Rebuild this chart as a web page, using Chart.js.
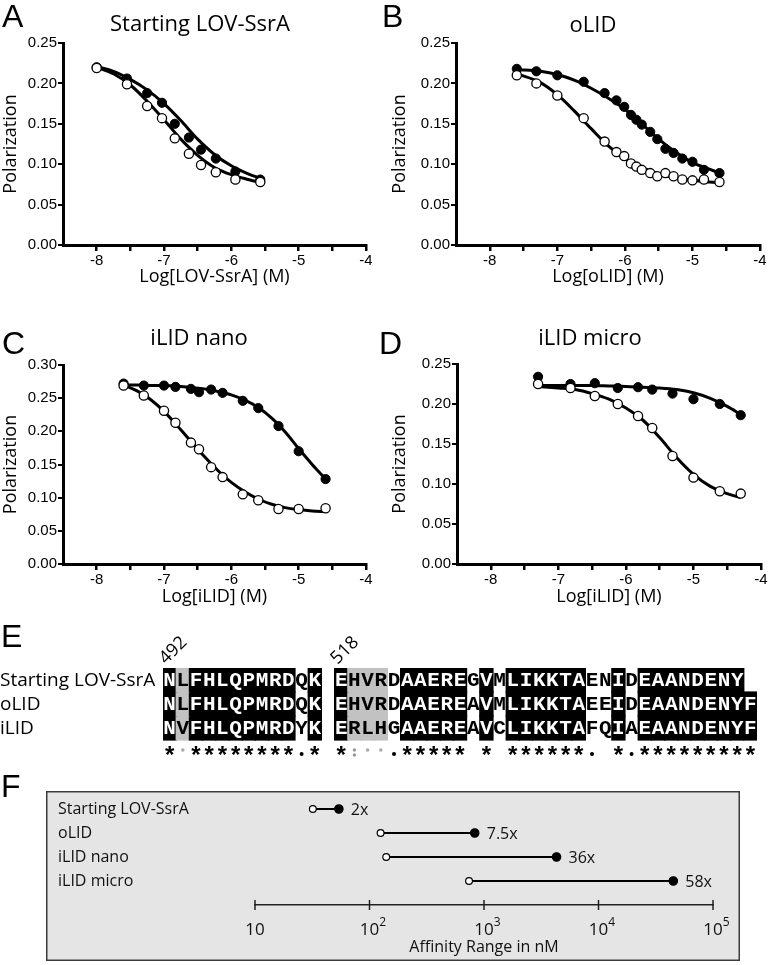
<!DOCTYPE html>
<html>
<head>
<meta charset="utf-8">
<script src="https://cdn.jsdelivr.net/npm/chart.js@4.4.1/dist/chart.umd.min.js"></script>
<style>
  html, body { margin: 0; padding: 0; background: #fff; overflow: hidden; }
  #page { position: relative; width: 773px; height: 965px; }
  canvas { position: absolute; }
  .txt { position: absolute; white-space: nowrap; line-height: 1; color: #000; }
  .letter { font-family: "Liberation Sans", Arial, sans-serif; font-size: 32px; }
  .ttl { font-family: "Open Sans", sans-serif; font-size: 22px; width: 300px; text-align: center; }
</style>
</head>
<body>
<div id="page">
  <canvas id="cA" width="385" height="290" style="left:0;top:0"></canvas>
  <canvas id="cB" width="388" height="290" style="left:385px;top:0"></canvas>
  <canvas id="cC" width="385" height="320" style="left:0;top:290px"></canvas>
  <canvas id="cD" width="388" height="320" style="left:385px;top:290px"></canvas>
  <canvas id="cE" width="773" height="140" style="left:0;top:630px"></canvas>
  <canvas id="cF" width="694" height="170" style="left:46px;top:791px"></canvas>

  <div class="txt letter" style="left:2px;top:0">A</div>
  <div class="txt letter" style="left:382px;top:0">B</div>
  <div class="txt letter" style="left:2px;top:327px">C</div>
  <div class="txt letter" style="left:379px;top:327px">D</div>
  <div class="txt letter" style="left:1px;top:620px">E</div>
  <div class="txt letter" style="left:1px;top:770px">F</div>

  <div class="txt ttl" style="left:50px;top:11px">Starting LOV-SsrA</div>
  <div class="txt ttl" style="left:443px;top:12px">oLID</div>
  <div class="txt ttl" style="left:49px;top:325px">iLID nano</div>
  <div class="txt ttl" style="left:440px;top:325px">iLID micro</div>
</div>

<script>
// ---- shared axis ticks ----
const logConcTicks = [-8, -7, -6, -5, -4];
const logConcMinor = [-7.5, -6.5, -5.5, -4.5];
const polTicks = [0, 0.05, 0.10, 0.15, 0.20, 0.25];
const polTicksC = [0, 0.05, 0.10, 0.15, 0.20, 0.25, 0.30];

// ---- A: Starting LOV-SsrA ----
const aConc = [-8, -7.55, -7.25, -7.03, -6.84, -6.63, -6.45, -6.23, -5.94, -5.57];
const aDark = [0.220, 0.206, 0.188, 0.176, 0.150, 0.133, 0.118, 0.107, 0.091, 0.081];
const aLight = [0.219, 0.199, 0.172, 0.157, 0.132, 0.113, 0.099, 0.090, 0.081, 0.078];
const aFitConc = [-8, -7.75, -7.5, -7.25, -7, -6.75, -6.5, -6.25, -6, -5.75, -5.55];
const aFitDark = [0.221, 0.215, 0.205, 0.192, 0.175, 0.154, 0.131, 0.112, 0.098, 0.088, 0.082];
const aFitLight = [0.220, 0.212, 0.198, 0.178, 0.155, 0.131, 0.111, 0.096, 0.087, 0.081, 0.077];

// ---- B: oLID ----
const bConc = [-7.6, -7.31, -7.0, -6.61, -6.3, -6.125, -6.01, -5.91, -5.83, -5.75, -5.625, -5.52, -5.4, -5.28, -5.15, -5.0, -4.83, -4.6];
const bDark = [0.218, 0.215, 0.210, 0.202, 0.188, 0.179, 0.171, 0.161, 0.155, 0.149, 0.140, 0.131, 0.119, 0.114, 0.107, 0.103, 0.093, 0.089];
const bLight = [0.210, 0.200, 0.185, 0.157, 0.128, 0.115, 0.110, 0.101, 0.097, 0.093, 0.089, 0.085, 0.089, 0.085, 0.081, 0.080, 0.081, 0.078];
const bFitConc = [-7.6, -7.25, -7, -6.75, -6.5, -6.25, -6, -5.75, -5.5, -5.25, -5, -4.75, -4.6];
const bFitDark = [0.217, 0.215, 0.211, 0.204, 0.194, 0.182, 0.168, 0.150, 0.131, 0.115, 0.102, 0.094, 0.089];
const bFitLight = [0.212, 0.201, 0.186, 0.166, 0.144, 0.123, 0.107, 0.096, 0.088, 0.083, 0.080, 0.078, 0.077];

// ---- C: iLID nano ----
const cConc = [-7.6, -7.3, -7.0, -6.83, -6.6, -6.48, -6.3, -6.13, -5.83, -5.6, -5.3, -5.0, -4.6];
const cDark = [0.272, 0.269, 0.269, 0.267, 0.264, 0.259, 0.263, 0.258, 0.246, 0.235, 0.208, 0.170, 0.128];
const cLight = [0.269, 0.254, 0.231, 0.213, 0.183, 0.173, 0.146, 0.131, 0.105, 0.096, 0.083, 0.083, 0.084];
const cFitConc = [-7.6, -7.4, -7.2, -7.0, -6.8, -6.6, -6.4, -6.2, -6.0, -5.8, -5.6, -5.4, -5.2, -5.0, -4.8, -4.6];
const cFitDark = [0.270, 0.270, 0.269, 0.269, 0.268, 0.266, 0.264, 0.260, 0.255, 0.247, 0.236, 0.220, 0.199, 0.174, 0.150, 0.128];
const cFitLight = [0.270, 0.261, 0.248, 0.230, 0.208, 0.185, 0.162, 0.141, 0.123, 0.109, 0.098, 0.090, 0.085, 0.082, 0.080, 0.079];

// ---- D: iLID micro ----
const dConc = [-7.3, -6.82, -6.46, -6.12, -5.82, -5.61, -5.31, -5.0, -4.61, -4.3];
const dDark = [0.234, 0.225, 0.226, 0.220, 0.221, 0.218, 0.213, 0.206, 0.200, 0.186];
const dLight = [0.225, 0.220, 0.210, 0.200, 0.185, 0.170, 0.135, 0.108, 0.091, 0.088];
const dFitConc = [-7.3, -7.0, -6.75, -6.5, -6.25, -6.0, -5.75, -5.5, -5.25, -5.0, -4.75, -4.5, -4.3];
const dFitDark = [0.223, 0.223, 0.223, 0.223, 0.2225, 0.222, 0.221, 0.220, 0.218, 0.214, 0.207, 0.197, 0.187];
const dFitLight = [0.222, 0.220, 0.218, 0.213, 0.206, 0.195, 0.180, 0.158, 0.133, 0.112, 0.097, 0.088, 0.083];

// ---- E: alignment ----
const seqNames = ['Starting LOV-SsrA', 'oLID', 'iLID'];
const seqRows = [
  'NLFHLQPMRDQK EHVRDAAEREGVMLIKKTAENIDEAANDENY',
  'NLFHLQPMRDQK EHVRDAAEREAVMLIKKTAEEIDEAANDENYF',
  'NVFHLQPMRDYK ERLHGAAEREAVCLIKKTAFQIAEAANDENYF'
];
const conservation = '*˚********.* *:˚˚.***** * ******. *.*********';
const numberedCols = [0, 13];
const residueNumbers = ['492', '518'];

// ---- F: affinity ranges ----
const rangeNames = ['Starting LOV-SsrA', 'oLID', 'iLID nano', 'iLID micro'];
const openNM = [32, 125, 140, 740];
const filledNM = [54, 830, 4300, 45000];
const foldLabels = ['2x', '7.5x', '36x', '58x'];
const decadeTicks = [10, 100, 1000, 10000, 100000];

const sansFont = '"Open Sans", sans-serif';
const tickFont = '"Liberation Sans", Arial, sans-serif';

function curveChart(p) {
  const pts = (xs, ys) => xs.map((x, i) => ({ x: x, y: ys[i] }));
  const fitLine = ys => ({
    type: 'line', data: pts(p.fitConc, ys), borderColor: '#000', borderWidth: 3,
    pointRadius: 0, cubicInterpolationMode: 'monotone', fill: false
  });
  return new Chart(document.getElementById(p.id), {
    type: 'scatter',
    data: {
      datasets: [
        { data: pts(p.conc, p.light), pointRadius: 4.6, pointBackgroundColor: '#fff', pointBorderColor: '#000', pointBorderWidth: 1.3, order: 0 },
        { data: pts(p.conc, p.dark), pointRadius: 4.6, pointBackgroundColor: '#000', pointBorderColor: '#000', pointBorderWidth: 1, order: 1 },
        Object.assign(fitLine(p.fitDark), { order: 2 }),
        Object.assign(fitLine(p.fitLight), { order: 3 })
      ]
    },
    options: {
      responsive: false, animation: false, events: [],
      layout: { padding: p.pad },
      plugins: { legend: { display: false }, tooltip: { enabled: false } },
      scales: {
        x: {
          type: 'linear', min: -8.5, max: -4,
          afterBuildTicks: s => { s.ticks = logConcTicks.concat(logConcMinor).sort((a, b) => a - b).map(v => ({ value: v })); },
          afterFit: s => { s.height = p.xHeight; },
          ticks: { autoSkip: false, maxRotation: 0, padding: 1, color: '#000', font: { family: tickFont, size: 15 },
                   callback: v => logConcTicks.includes(v) ? String(v) : '' },
          grid: { drawOnChartArea: false, tickLength: 6, color: '#000', lineWidth: 2.5 },
          border: { color: '#000', width: 3 },
          title: { display: true, text: p.xTitle, color: '#000', font: { family: sansFont, size: 18 }, padding: { top: 0, bottom: 2 } }
        },
        y: {
          min: 0, max: p.yTicks[p.yTicks.length - 1],
          afterBuildTicks: s => { s.ticks = p.yTicks.map(v => ({ value: v })); },
          afterFit: s => { s.width = p.yWidth; },
          ticks: { padding: 1, color: '#000', font: { family: tickFont, size: 15 }, callback: v => Number(v).toFixed(2) },
          grid: { drawOnChartArea: false, tickLength: 5, color: '#000', lineWidth: 2 },
          border: { color: '#000', width: 3 },
          title: { display: true, text: 'Polarization', color: '#000', font: { family: sansFont, size: 18 }, padding: { top: p.yTitlePad, bottom: 0 } }
        }
      }
    }
  });
}

curveChart({ id: 'cA', conc: aConc, dark: aDark, light: aLight, fitConc: aFitConc, fitDark: aFitDark, fitLight: aFitLight,
  yTicks: polTicks, xTitle: 'Log[LOV-SsrA] (M)', pad: { left: 0, top: 43, right: 19, bottom: 0 }, yWidth: 63, xHeight: 45, yTitlePad: 0 });
curveChart({ id: 'cB', conc: bConc, dark: bDark, light: bLight, fitConc: bFitConc, fitDark: bFitDark, fitLight: bFitLight,
  yTicks: polTicks, xTitle: 'Log[oLID] (M)', pad: { left: 0, top: 43, right: 13, bottom: 0 }, yWidth: 71, xHeight: 45, yTitlePad: 4 });
curveChart({ id: 'cC', conc: cConc, dark: cDark, light: cLight, fitConc: cFitConc, fitDark: cFitDark, fitLight: cFitLight,
  yTicks: polTicksC, xTitle: 'Log[iLID] (M)', pad: { left: 0, top: 75, right: 19, bottom: 0 }, yWidth: 63, xHeight: 46, yTitlePad: 0 });
curveChart({ id: 'cD', conc: dConc, dark: dDark, light: dLight, fitConc: dFitConc, fitDark: dFitDark, fitLight: dFitLight,
  yTicks: polTicks, xTitle: 'Log[iLID] (M)', pad: { left: 0, top: 74, right: 12, bottom: 0 }, yWidth: 72, xHeight: 46, yTitlePad: 4 });

// ---- E: alignment drawn on a category x / linear y grid ----
const colIdx = conservation.split('').map((_, i) => String(i));
const shadeFor = m => m === '*' ? '#000' : (m === ':' || m === '˚') ? '#c2c2c2' : 'rgba(0,0,0,0)';

const alignPlugin = {
  id: 'alignText',
  afterDatasetsDraw(chart) {
    const { ctx } = chart;
    const xs = chart.scales.x, ys = chart.scales.y;
    const colW = xs.getPixelForValue(1) - xs.getPixelForValue(0);
    ctx.save();
    ctx.textBaseline = 'middle';
    // row names
    ctx.font = '19px "Open Sans"';
    ctx.textAlign = 'left';
    ctx.fillStyle = '#000';
    seqNames.forEach((n, r) => ctx.fillText(n, 0, ys.getPixelForValue(r + 0.5) + 1));
    // residues
    ctx.font = 'bold 21px "Liberation Mono"';
    ctx.textAlign = 'center';
    seqRows.forEach((row, r) => {
      row.split('').forEach((ch, c) => {
        if (ch === ' ') return;
        ctx.fillStyle = conservation[c] === '*' ? '#fff' : '#000';
        ctx.fillText(ch, xs.getPixelForValue(c), ys.getPixelForValue(r + 0.5) + 1);
      });
    });
    // conservation marks
    const my = ys.getPixelForValue(3.5);
    conservation.split('').forEach((m, c) => {
      const cx = xs.getPixelForValue(c);
      if (m === '*') {
        ctx.fillStyle = '#000';
        ctx.font = 'bold 24px "Liberation Mono"';
        ctx.fillText('*', cx, my + 6);
      } else if (m === '.') {
        ctx.fillStyle = '#000';
        ctx.beginPath(); ctx.arc(cx, my + 2, 2, 0, Math.PI * 2); ctx.fill();
      } else if (m === ':') {
        ctx.fillStyle = '#999';
        ctx.beginPath(); ctx.arc(cx, my - 2, 1.7, 0, Math.PI * 2); ctx.fill();
        ctx.beginPath(); ctx.arc(cx, my + 3, 1.7, 0, Math.PI * 2); ctx.fill();
      } else if (m === '˚') {
        ctx.fillStyle = '#aaa';
        ctx.beginPath(); ctx.arc(cx, my - 2, 1.8, 0, Math.PI * 2); ctx.fill();
      }
    });
    // residue numbers
    ctx.fillStyle = '#000';
    ctx.font = '18px "Open Sans"';
    ctx.textAlign = 'left';
    ctx.textBaseline = 'alphabetic';
    numberedCols.forEach((c, i) => {
      ctx.save();
      ctx.translate(xs.getPixelForValue(c) - colW / 2 + 3, ys.getPixelForValue(0) - 3);
      ctx.rotate(-Math.PI / 4);
      ctx.fillText(residueNumbers[i], 0, 0);
      ctx.restore();
    });
    ctx.restore();
  }
};

new Chart(document.getElementById('cE'), {
  type: 'bar',
  data: {
    labels: colIdx,
    datasets: seqRows.map((row, r) => ({
      data: colIdx.map((_, c) => (row[c] && row[c] !== ' ') ? [r, r + 1] : null),
      backgroundColor: colIdx.map((_, c) => shadeFor(conservation[c])),
      borderWidth: 0, barPercentage: 1, categoryPercentage: 1, grouped: false, inflateAmount: 0.6
    }))
  },
  options: {
    responsive: false, animation: false, events: [],
    layout: { padding: { left: 163, right: 16, top: 38, bottom: 6 } },
    plugins: { legend: { display: false }, tooltip: { enabled: false } },
    scales: {
      x: { type: 'category', display: false, offset: true },
      y: { type: 'linear', display: false, reverse: true, min: 0, max: 4 }
    }
  },
  plugins: [alignPlugin]
});

// ---- F: affinity range dumbbells on a log axis ----
const rangePlugin = {
  id: 'rangeDecor',
  beforeDraw(chart) {
    const { ctx, width, height } = chart;
    ctx.save();
    ctx.fillStyle = '#e5e5e5';
    ctx.fillRect(0, 0, width, height);
    ctx.strokeStyle = '#3c3c3c';
    ctx.lineWidth = 1.5;
    ctx.strokeRect(0.75, 0.75, width - 1.5, height - 1.5);
    ctx.restore();
  },
  afterDraw(chart) {
    const { ctx, chartArea } = chart;
    const xs = chart.scales.x, ys = chart.scales.y;
    const base = chartArea.bottom;
    ctx.save();
    ctx.strokeStyle = '#222';
    ctx.lineWidth = 1.5;
    ctx.fillStyle = '#111';
    ctx.textBaseline = 'alphabetic';
    decadeTicks.forEach(v => {
      const px = xs.getPixelForValue(v);
      ctx.beginPath(); ctx.moveTo(px, base - 5); ctx.lineTo(px, base + 5); ctx.stroke();
      const exp = Math.round(Math.log10(v));
      ctx.font = '17px "Open Sans"';
      ctx.textAlign = 'center';
      ctx.fillText('10', px, base + 30);
      if (exp > 1) {
        const w = ctx.measureText('10').width;
        ctx.font = '12px "Open Sans"';
        ctx.textAlign = 'left';
        ctx.fillText(String(exp), px + w / 2, base + 21);
      }
    });
    ctx.font = '16px "Open Sans"';
    ctx.textAlign = 'left';
    ctx.textBaseline = 'middle';
    foldLabels.forEach((t, i) => {
      ctx.fillText(t, xs.getPixelForValue(filledNM[i]) + 12, ys.getPixelForValue(i) + 1);
    });
    ctx.restore();
  }
};

new Chart(document.getElementById('cF'), {
  type: 'line',
  data: {
    datasets: rangeNames.map((name, i) => ({
      data: [{ x: openNM[i], y: name }, { x: filledNM[i], y: name }],
      borderColor: '#000', borderWidth: 2,
      pointRadius: [3.4, 4.2], pointBackgroundColor: ['#fff', '#000'],
      pointBorderColor: '#000', pointBorderWidth: 1.2
    }))
  },
  options: {
    responsive: false, animation: false, events: [],
    layout: { padding: { left: 12, top: 18, right: 27, bottom: 0 } },
    plugins: { legend: { display: false }, tooltip: { enabled: false } },
    scales: {
      x: {
        type: 'logarithmic', min: 10, max: 100000,
        ticks: { display: false }, grid: { display: false },
        border: { display: true, color: '#222', width: 1.5 },
        afterFit: s => { s.height = 56; },
        title: { display: true, text: 'Affinity Range in nM', color: '#111', font: { family: sansFont, size: 16 }, padding: { top: 0, bottom: 4 } }
      },
      y: {
        type: 'category', labels: rangeNames.concat(['']), offset: false,
        grid: { display: false }, border: { display: false },
        afterFit: s => { s.width = 197; },
        ticks: { autoSkip: false, crossAlign: 'far', color: '#111', padding: 0, font: { family: sansFont, size: 16 } }
      }
    }
  },
  plugins: [rangePlugin]
});
</script>
</body>
</html>
